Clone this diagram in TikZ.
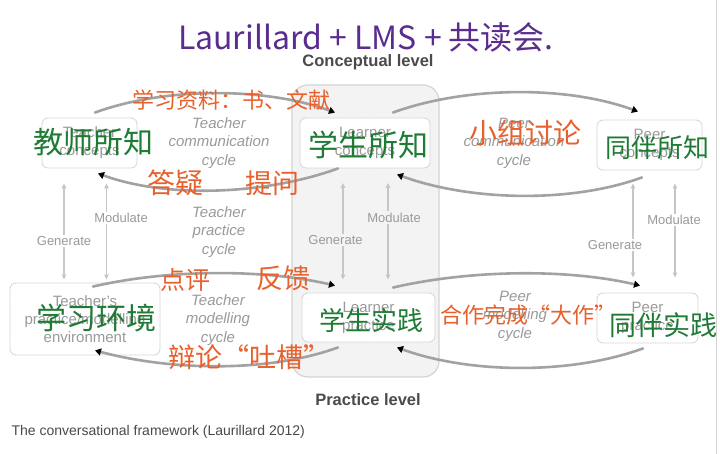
\documentclass[tikz,border=0pt]{standalone}
\usepackage{fontspec}
\setmainfont{Liberation Sans}
\newfontfamily\handfont{Noto Sans CJK SC}
\usetikzlibrary{arrows.meta}
\definecolor{arcgray}{HTML}{A2A2A2}
\definecolor{vgray}{HTML}{C6C6C6}
\definecolor{labgray}{HTML}{9A9A9A}
\definecolor{boxline}{HTML}{D2D2D2}
\definecolor{colfill}{HTML}{F3F3F3}
\definecolor{colline}{HTML}{D4D4D4}
\definecolor{lvlgray}{HTML}{4A4A4A}
\definecolor{hpurple}{HTML}{5B2C8F}
\definecolor{horange}{HTML}{E8602C}
\definecolor{hgreen}{HTML}{1E7B34}
\begin{document}
\begin{tikzpicture}[x=1pt,y=1pt,line join=round,line cap=round,
  >={Triangle[length=5pt,width=4.5pt]},
  box/.style={draw=boxline,dash pattern=on 1.5pt off 1pt,line width=0.9pt,rounded corners=6pt,
    fill=white,text=labgray,align=center,font=\fontsize{15}{18}\selectfont},
  cyc/.style={draw=arcgray,line width=2.6pt,-{Triangle[length=6pt,width=7pt,color=black]}},
  gm/.style={<->,draw=vgray,line width=1.3pt},
  lab/.style={fill=white,inner sep=1.5pt,text=labgray,font=\fontsize{13}{15}\selectfont},
  cyclab/.style={text=labgray,align=center,font=\itshape\fontsize{15}{18.5}\selectfont},
  lvl/.style={text=lvlgray,font=\bfseries\fontsize{16.5}{20}\selectfont},
  hw/.style={inner sep=0pt,font=\handfont\fontsize{#1}{#1}\selectfont}]
\useasboundingbox (0,0) rectangle (720,454);
\fill[white] (0,0) rectangle (720,454);
\draw[boxline,line width=1pt] (716,0) -- (716,454);
% learner column
\draw[draw=colline,fill=colfill,line width=1.2pt,rounded corners=16pt] (292,77) rectangle (439,369);
% boxes
\node[box,minimum width=95pt,minimum height=50pt] (tconc) at (89.5,311) {Teacher\\concepts};
\node[box,minimum width=130pt,minimum height=50pt] (lconc) at (365,311) {Learner\\concepts};
\node[box,minimum width=105pt,minimum height=50pt] (pconc) at (649.5,309) {Peer\\concepts};
\node[box,minimum width=150pt,minimum height=72pt] (tenv) at (85,135) {Teacher's\\practice/modelling\\environment};
\node[box,minimum width=133pt,minimum height=49pt] (lprac) at (368.5,136.5) {Learner\\practice};
\node[box,minimum width=101pt,minimum height=50pt] (pprac) at (647.5,136) {Peer\\practice};
% cycles
\draw[cyc] ([xshift=5.5pt,yshift=5pt]tconc.north) to[out=20,in=160,looseness=0.8] ([xshift=-30pt,yshift=5pt]lconc.north);
\draw[cyc] ([xshift=-27pt]lconc.south) to[out=200,in=-20,looseness=0.8] ([xshift=8.5pt,yshift=-5pt]tconc.south);
\draw[cyc] ([xshift=28pt,yshift=5pt]lconc.north) to[out=20,in=160,looseness=0.8] ([xshift=-11.5pt,yshift=8pt]pconc.north);
\draw[cyc] ([xshift=-7.5pt,yshift=-7pt]pconc.south) to[out=200,in=-20,looseness=0.8] ([xshift=32pt,yshift=-6pt]lconc.south);
\draw[cyc] ([xshift=8pt,yshift=-4pt]tenv.north) to[out=13,in=167,looseness=0.8] ([xshift=-33.5pt,yshift=7pt]lprac.north);
\draw[cyc] ([xshift=-30.5pt,yshift=-5pt]lprac.south) to[out=200,in=-15,looseness=0.8] ([xshift=10pt,yshift=5pt]tenv.south);
\draw[cyc] ([xshift=24.5pt,yshift=5pt]lprac.north) to[out=13,in=167,looseness=0.8] ([xshift=-7.5pt,yshift=7pt]pprac.north);
\draw[cyc] ([xshift=-4.5pt,yshift=-5pt]pprac.south) to[out=200,in=-20,looseness=0.8] ([xshift=28.5pt,yshift=-5pt]lprac.south);
% generate / modulate
\draw[gm] ([xshift=-25.5pt,yshift=-15pt]tconc.south) -- node[lab,pos=0.6] {Generate} ([xshift=-21pt,yshift=3pt]tenv.north);
\draw[gm] ([xshift=17pt,yshift=-15pt]tconc.south) -- node[lab,pos=0.36,xshift=14.5pt] {Modulate} ([xshift=21.5pt,yshift=3pt]tenv.north);
\draw[gm] ([xshift=-22pt,yshift=-14.5pt]lconc.south) -- node[lab,fill=colfill,pos=0.59,xshift=-7.5pt] {Generate} ([xshift=-25.5pt,yshift=13pt]lprac.north);
\draw[gm] ([xshift=23pt,yshift=-14.5pt]lconc.south) -- node[lab,fill=colfill,pos=0.36,xshift=6pt] {Modulate} ([xshift=19.5pt,yshift=13pt]lprac.north);
\draw[gm] ([xshift=-16.5pt,yshift=-13pt]pconc.south) -- node[lab,pos=0.65,xshift=-18pt] {Generate} ([xshift=-14.5pt,yshift=15pt]pprac.north);
\draw[gm] ([xshift=25.5pt,yshift=-13pt]pconc.south) -- node[lab,pos=0.39,xshift=-1pt] {Modulate} ([xshift=27.5pt,yshift=15pt]pprac.north);
% cycle labels
\node[cyclab] (tcommcyc) at (219,311) {Teacher\\communication\\cycle};
\node[cyclab] (tpraccyc) at (219,222) {Teacher\\practice\\cycle};
\node[cyclab] (tmodcyc) at (218,134) {Teacher\\modelling\\cycle};
\node[cyclab] (pcommcyc) at (514,311) {Peer\\communication\\cycle};
\node[cyclab] (pmodcyc) at (515,138) {Peer\\modelling\\cycle};
\node[lvl] (conlvl) at (368,392) {Conceptual level};
\node[lvl] (praclvl) at (368,54) {Practice level};
\node[anchor=west,text=lvlgray,font=\fontsize{14}{16}\selectfont] (caption) at (8,22) {The conversational framework (Laurillard 2012)};
% handwriting
\node[hw=32,text=hpurple] (title) at (366,417) {Laurillard + LMS + 共读会.};
\node[hw=22,text=horange] (hwmat) at (231,354) {学习资料：书、文献};
\node[hw=30,text=hgreen] (hwtc) at (93,312) {教师所知};
\node[hw=28,text=horange] (hwdy) at (175,271) {答疑};
\node[hw=27,text=horange] (hwtw) at (272,271) {提问};
\node[hw=30,text=hgreen] (hwlc) at (368,309) {学生所知};
\node[hw=28,text=horange] (hwxz) at (525,321) {小组讨论};
\node[hw=26,text=hgreen] (hwpc) at (657,306) {同伴所知};
\node[hw=25,text=horange] (hwdp) at (185,174) {点评};
\node[hw=27,text=horange] (hwfk) at (283,176) {反馈};
\node[hw=30,text=hgreen] (hwenv) at (96,136) {学习环境};
\node[hw=26,text=hgreen] (hwlp) at (371,134) {学生实践};
\node[hw=22,text=horange] (hwhz) at (528,139) {合作完成“大作”};
\node[hw=27,text=hgreen] (hwpp) at (663,129) {同伴实践};
\node[hw=27,text=horange] (hwbl) at (249,97) {辩论“吐槽”};
\end{tikzpicture}
\end{document}
